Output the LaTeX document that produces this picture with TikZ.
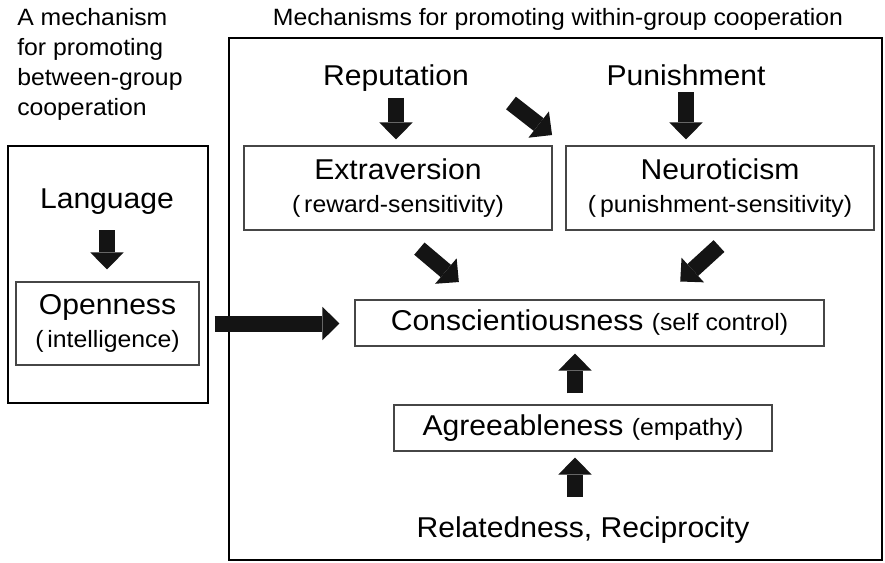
\documentclass[tikz,border=0pt]{standalone}
\usepackage{fontspec}
\setmainfont[FakeStretch=1.05]{Liberation Sans}
\usetikzlibrary{positioning, arrows.meta, calc}
\definecolor{arrowblack}{RGB}{20,20,20}
\definecolor{boxgray}{RGB}{70,70,70}
\newcommand{\bigtxt}{\fontsize{21.5}{25}\selectfont}
\newcommand{\smalltxt}{\fontsize{17.7}{22.5}\selectfont}

\begin{document}
\begin{tikzpicture}[x=0.75pt, y=-0.75pt,
    frame/.style={draw=black, line width=1.6pt},
    trait/.style={draw=boxgray, line width=0.8pt, align=center, inner sep=0pt, font=\bigtxt},
    cause/.style={inner sep=0pt, font=\bigtxt, anchor=base},
    heading/.style={inner sep=0pt, font=\smalltxt, align=left},
    fatarrow/.style={arrowblack, line width=12pt, -{Triangle[length=12.75pt, width=25pt, line width=0pt]}}
]
\useasboundingbox (0,0) rectangle (885,562);

% Group frames and headings
\draw[frame] (8,146) rectangle (208,403);
\draw[frame] (229,38) rectangle (882,560);
\node[heading, anchor=north west] (between) at (17,8) {A mechanism\\for promoting\\between-group\\cooperation};
\node[heading, anchor=base] (within) at (558,25) {Mechanisms for promoting within-group cooperation};

% Between-group side
\node[cause] (lang) at (107,208) {Language};
\node[trait, minimum width=137.25pt, minimum height=62.25pt] (open) at (107.5,323.5) {Openness\\{\smalltxt(\,intelligence)}};

\draw[fatarrow, shorten <=12pt, shorten >=9pt] (lang.south) -- (lang.south |- open.north);

% Row 1: Reputation, Punishment
\node[cause] (rep) at (396,85) {Reputation};
\node[cause] (pun) at (686,85) {Punishment};
\node[trait, minimum width=231pt, minimum height=63pt] (extra) at (398,188) {Extraversion\\{\smalltxt(\,reward-sensitivity)}};
\node[trait, minimum width=231pt, minimum height=63pt] (neu) at (720,188) {Neuroticism\\{\smalltxt(\,punishment-sensitivity)}};
\coordinate (repdiag) at (511,103);

\draw[fatarrow, shorten <=5pt, shorten >=4.5pt] (rep.south) -- (rep.south |- extra.north);
\draw[fatarrow, shorten <=5pt, shorten >=4.5pt] (pun.south) -- (pun.south |- neu.north);
\draw[fatarrow, shorten >=12.75pt] (repdiag) -- (neu.north west);

% Row 2: Conscientiousness
\node[trait, minimum width=351.75pt, minimum height=34.5pt] (consc) at (589.5,323) {Conscientiousness {\smalltxt(self control)}};

\draw[fatarrow, shorten <=21pt, shorten >=20.25pt] (extra.south) -- ($(consc.north west)+(125,0)$);
\draw[fatarrow, shorten <=17.25pt, shorten >=20pt] ($(neu.south)+(16,0)$) -- ($(consc.north east)+(-164,0)$);
\draw[fatarrow, shorten <=11.25pt, shorten >=11.25pt] (open.east) -- (open.east -| consc.west);

% Row 3: Agreeableness, Relatedness
\node[trait, minimum width=283.5pt, minimum height=34.5pt] (agree) at (583,428) {Agreeableness {\smalltxt(empathy)}};
\node[cause] (relat) at (583,537) {Relatedness, Reciprocity};
\coordinate (axis) at (575,0);

\draw[fatarrow, shorten <=8.25pt, shorten >=5.25pt] (axis |- agree.north) -- (axis |- consc.south);
\draw[fatarrow, shorten <=14.25pt, shorten >=4.5pt] (axis |- relat.north) -- (axis |- agree.south);

\end{tikzpicture}
\end{document}
